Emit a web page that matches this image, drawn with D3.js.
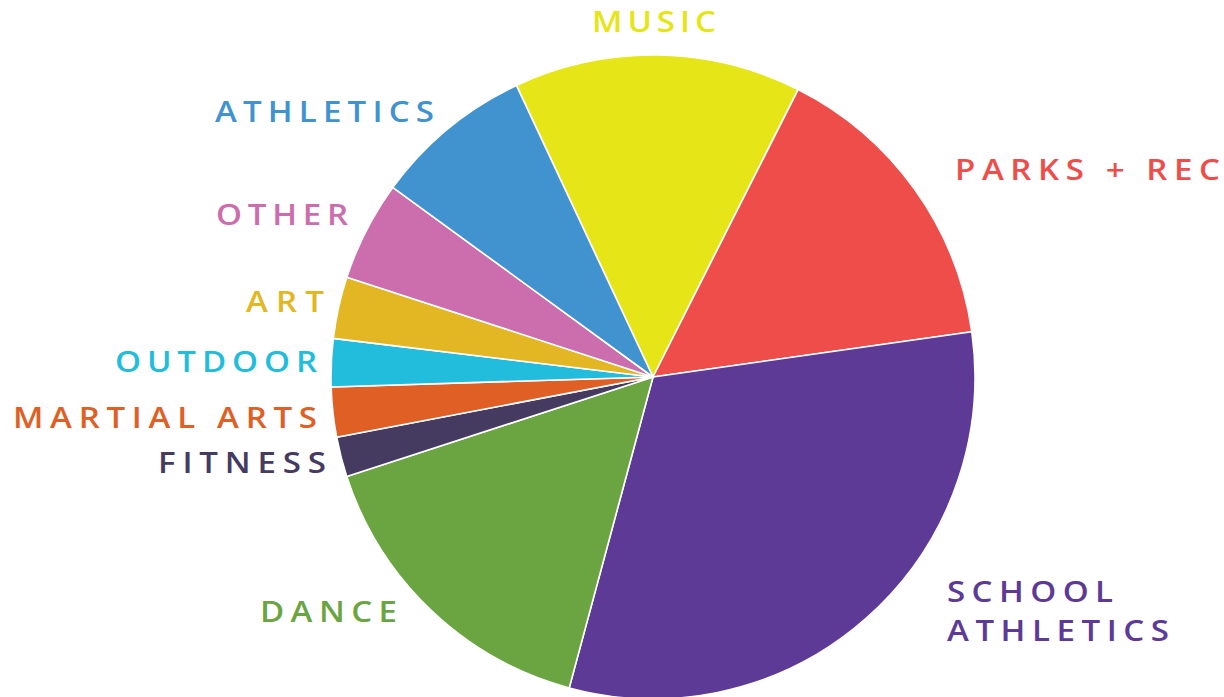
<!DOCTYPE html>
<html>
<head>
<meta charset="utf-8">
<script src="https://cdn.jsdelivr.net/npm/d3@7"></script>
<style>
  html, body { margin: 0; padding: 0; background: #ffffff; }
  svg { display: block; }
  text { font-family: "Open Sans", "Noto Sans", sans-serif; font-weight: 600; }
</style>
</head>
<body>
<svg id="chart" width="1224" height="697"></svg>
<script>
// ---- data ----
const categories = ["MUSIC", "PARKS + REC", "SCHOOL ATHLETICS", "DANCE", "FITNESS",
                    "MARTIAL ARTS", "OUTDOOR", "ART", "OTHER", "ATHLETICS"];
const values = [14.4, 15.3, 31.4, 15.8, 2.0, 2.5, 2.4, 3.1, 5.0, 8.0];
const colors = ["#e5e517", "#ee4d4a", "#5c3a96", "#6aa541", "#453a5f",
                "#e05f24", "#22bddd", "#e2b723", "#cc6ead", "#4093cf"];

// ---- layout (label placement: left x, baseline y, text width) ----
const labelLayout = {
  "MUSIC":            [{x: 592, y: 32, w: 124, t: "MUSIC"}],
  "PARKS + REC":      [{x: 955, y: 180, w: 265, t: "PARKS + REC"}],
  "SCHOOL ATHLETICS": [{x: 947, y: 602, w: 166, t: "SCHOOL"}, {x: 947, y: 641, w: 222, t: "ATHLETICS"}],
  "DANCE":            [{x: 260, y: 622, w: 137, t: "DANCE"}],
  "FITNESS":          [{x: 158, y: 473, w: 168, t: "FITNESS"}],
  "MARTIAL ARTS":     [{x: 13, y: 428, w: 304, t: "MARTIAL ARTS"}],
  "OUTDOOR":          [{x: 115, y: 372, w: 202, t: "OUTDOOR"}],
  "ART":              [{x: 246, y: 312, w: 78, t: "ART"}],
  "OTHER":            [{x: 216, y: 225, w: 132, t: "OTHER"}],
  "ATHLETICS":        [{x: 215, y: 122, w: 219, t: "ATHLETICS"}]
};

const svg = d3.select("#chart");
const cx = 653, cy = 377, radius = 322;
const startDeg = -25.1;
const stretch = 1.18;

const pie = d3.pie()
  .sort(null)
  .value(d => d.value)
  .startAngle(startDeg * Math.PI / 180)
  .endAngle(startDeg * Math.PI / 180 + 2 * Math.PI);

const data = categories.map((c, i) => ({name: c, value: values[i], color: colors[i]}));
const arc = d3.arc().innerRadius(0).outerRadius(radius);

const g = svg.append("g").attr("transform", `translate(${cx},${cy})`);
g.selectAll("path")
  .data(pie(data))
  .join("path")
  .attr("d", arc)
  .attr("fill", d => d.data.color)
  .attr("stroke", "#ffffff")
  .attr("stroke-width", 1.6)
  .attr("stroke-linejoin", "round");

// labels
data.forEach(d => {
  labelLayout[d.name].forEach(l => {
    svg.append("text")
      .attr("transform", `translate(${l.x},${l.y}) scale(${stretch},1)`)
      .attr("font-size", 28)
      .attr("fill", d.color)
      .attr("textLength", l.w / stretch)
      .attr("lengthAdjust", "spacing")
      .text(l.t);
  });
});
</script>
</body>
</html>
